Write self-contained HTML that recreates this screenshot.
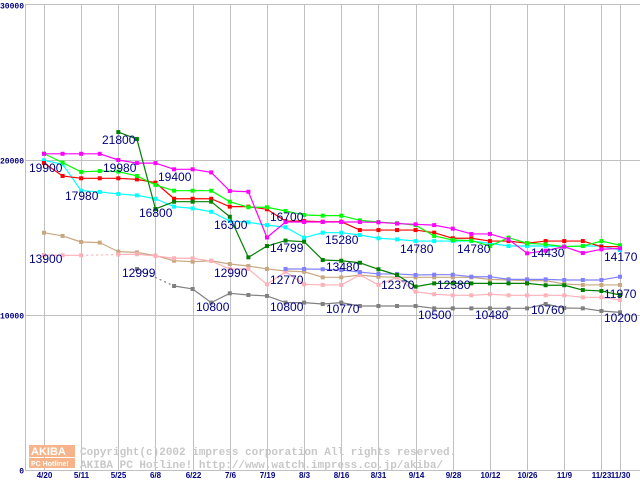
<!DOCTYPE html>
<html><head><meta charset="utf-8"><style>
html,body{margin:0;padding:0;background:#fff;width:640px;height:480px;overflow:hidden}
svg{display:block}
</style></head><body>
<svg id="chart" width="640" height="480" xmlns="http://www.w3.org/2000/svg" font-family="Liberation Sans, sans-serif"></svg>
<script>
const dates=["4/20","5/11","5/25","6/8","6/22","7/6","7/19","8/3","8/16","8/31","9/14","9/28","10/12","10/26","11/9","11/23","11/30"];
const dateIdx=[0,2,4,6,8,10,12,14,16,18,20,22,24,26,28,30,31];
const yTicks=[0,10000,20000,30000];
const magenta=[20.4,20.4,20.4,20.4,20.0,19.8,19.8,19.4,19.4,19.2,18.0,17.95,15.0,16.0,16.0,16.0,16.0,16.0,15.98,15.9,15.85,15.8,15.57,15.23,15.23,14.88,13.98,14.15,14.41,14.0,14.24,14.3];
const lime=[20.41,19.83,19.23,19.29,19.25,18.97,18.39,18.02,18.02,18.02,17.31,16.95,16.95,16.71,16.45,16.41,16.41,16.11,16.0,15.92,15.8,15.1,14.84,14.8,14.45,14.99,14.63,14.56,14.41,14.45,14.77,14.5];
const red=[19.81,18.97,18.82,18.82,18.82,18.75,18.54,17.5,17.5,17.5,16.99,16.99,16.82,16.06,16.06,16.02,16.02,15.48,15.48,15.48,15.48,15.31,14.95,14.95,14.77,14.77,14.63,14.77,14.77,14.77,14.41,14.41];
const cyan=[19.98,19.72,18.02,17.94,17.81,17.72,17.5,16.99,16.88,16.66,16.06,15.98,15.8,15.66,14.99,15.31,15.31,15.16,14.95,14.88,14.77,14.77,14.77,14.77,14.63,14.45,14.45,14.45,14.41,14.45,14.45,14.19];
const darkgreen=[null,null,null,null,21.8,21.35,16.84,17.31,17.31,17.31,16.34,13.72,14.45,14.8,14.73,13.55,13.5,13.37,12.95,12.58,11.83,12.04,12.04,12.04,12.04,12.04,12.04,11.92,11.92,11.61,11.55,11.29];
const tan=[15.31,15.1,14.71,14.67,14.09,14.04,13.83,13.5,13.44,13.5,13.29,13.16,12.97,12.84,12.79,12.43,12.43,12.58,12.47,12.43,12.43,12.43,12.43,12.43,12.3,12.26,12.22,12.22,12.0,11.94,11.94,11.94];
const pink=[13.87,13.85,13.85,null,13.9,13.92,13.81,13.66,13.66,13.48,12.97,12.97,11.98,12.79,11.98,11.94,11.94,12.58,11.94,12.43,11.5,11.34,11.27,11.27,11.34,11.27,11.27,11.27,11.27,11.14,11.14,10.97];
const gray=[null,null,null,null,null,12.97,null,11.87,11.68,10.8,11.4,11.29,11.23,10.8,10.8,10.71,10.8,10.58,10.58,10.58,10.58,10.43,10.43,10.43,10.43,10.43,10.43,10.71,10.45,10.43,10.26,10.17];
const blue=[null,null,null,null,null,null,null,null,null,null,null,null,null,12.97,12.97,12.95,12.9,12.77,12.65,12.65,12.58,12.6,12.6,12.47,12.47,12.3,12.3,12.3,12.26,12.26,12.26,12.47];
const labelText=["21800","19900","19980","19400","17980","16800","16300","16700","14799","13900","12999","12990","12770","10800","10800","15280","14780","14780","14430","14170","13480","12370","12380","11970","10770","10500","10480","10760","10200"];
const labelLeft=[102,29,103,158,65,139,214,270,270,29,122,214,270,196,270,325,400,457,531,604,326,381,437,604,326,418,475,531,604];
const labelBase=[144,172,172,181,200,217,229,221,252,263,277,277,284,311,311,244,253,253,257,261,271,289,289,298,313,319,319,314,322];

const svg=document.getElementById('chart');
const NS='http://www.w3.org/2000/svg';
const X0=44,DX=18.58,Y0=470,PX=0.0155;
function xs(i){return X0+i*DX;}
function ys(v){return Y0-v*PX;}
function yk(v){return ys(v*1000);}
function mk(tag,attrs,parent){const e=document.createElementNS(NS,tag);for(const k in attrs)e.setAttribute(k,attrs[k]);(parent||svg).appendChild(e);return e;}

const grid=mk('g',{});


mk('line',{x1:25,y1:4.5,x2:640,y2:4.5,stroke:'#c0c0c0'},grid);
mk('line',{x1:25.5,y1:4,x2:25.5,y2:470,stroke:'#c0c0c0'},grid);
mk('line',{x1:25,y1:470.5,x2:640,y2:470.5,stroke:'#c0c0c0'},grid);
yTicks.forEach(t=>{
  const y=Math.round(ys(t))+0.5;
  if(t>0&&t<30000){const l=mk('line',{x1:25,y1:y,x2:640,y2:y,stroke:'#c0c0c0'},grid);
    
    }
  const tx=mk('text',{x:24,y:y+3,'text-anchor':'end','font-size':8,'font-weight':'bold',fill:'#000080','font-family':'Liberation Mono, monospace'});
  tx.textContent=String(t);
  
  
});
dates.forEach((d,k)=>{
  const x=Math.round(xs(dateIdx[k]))+0.5;
  const l=mk('line',{x1:x,y1:4,x2:x,y2:470,stroke:'#c0c0c0'},grid);
  
  
  const tx=mk('text',{x:x,y:478,'text-anchor':'middle','font-size':8,'font-weight':'bold',fill:'#000080'});
  tx.textContent=d;
  
  
});

const wm=mk('g',{});


mk('rect',{x:29,y:445,width:46,height:12,fill:'#f7b48a'},wm);
mk('rect',{x:29,y:458,width:46,height:10,fill:'#f7b48a'},wm);
const t1=mk('text',{x:31,y:455,'font-size':11,'font-weight':'bold',fill:'#fff'},wm);t1.textContent='AKIBA';
const t2=mk('text',{x:31,y:466,'font-size':7,'font-weight':'bold',fill:'#fff'},wm);t2.textContent='PC Hotline!';
const t3=mk('text',{x:80,y:455,'font-size':11,fill:'#c8c8c8','font-family':'Liberation Mono, monospace','font-weight':'bold'},wm);t3.textContent='Copyright(c)2002 impress corporation All rights reserved.';
const t4=mk('text',{x:80,y:468,'font-size':11,fill:'#c8c8c8','font-family':'Liberation Mono, monospace','font-weight':'bold'},wm);t4.textContent='AKIBA PC Hotline!  http://www.watch.impress.co.jp/akiba/';

const series=[
 ['tan',tan,'#c8a882'],['pink',pink,'#ffb0b8'],['gray',gray,'#808080'],['blue',blue,'#8080ff'],
 ['cyan',cyan,'#00ffff'],['red',red,'#ff0000'],['lime',lime,'#00ff00'],['magenta',magenta,'#ff00ff'],['darkgreen',darkgreen,'#008000']
];
series.forEach(([name,arr,col])=>{
  const g=mk('g',{});
  
  
  let prev=-1;
  for(let i=0;i<arr.length;i++){
    if(arr[i]==null)continue;
    if(prev>=0){
      const dashed=(i-prev>1);
      const l=mk('line',{x1:xs(prev),y1:yk(arr[prev]),x2:xs(i),y2:yk(arr[i]),stroke:col,'stroke-width':1.2,'stroke-dasharray':dashed?'2,3':'none'},g);
      
      
    }
    prev=i;
  }
  for(let i=0;i<arr.length;i++){
    if(arr[i]==null)continue;
    const r=mk('rect',{x:xs(i)-2,y:yk(arr[i])-2,width:4,height:4,fill:col},g);
    
    
  }
});
const lbl=mk('g',{});


labelText.forEach((s,k)=>{
  const t=mk('text',{x:labelLeft[k],y:labelBase[k],'font-size':12,fill:'#000080'},lbl);
  t.textContent=s;
  
  
});
</script>
</body></html>
